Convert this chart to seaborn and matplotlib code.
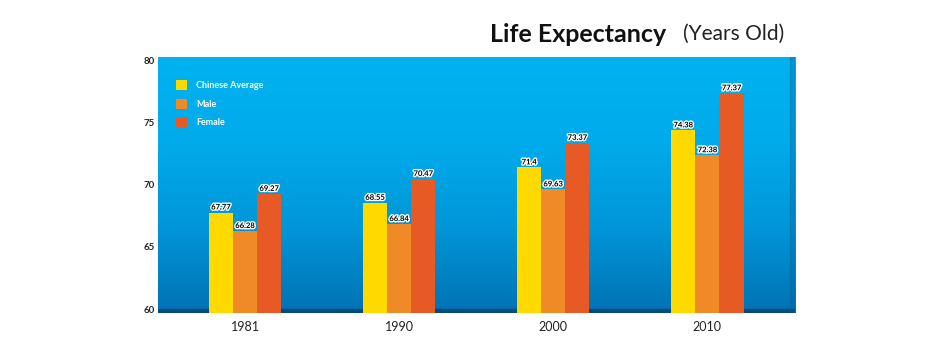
import numpy as np
import pandas as pd
import seaborn as sns
import matplotlib.pyplot as plt
import matplotlib.patheffects as pe
from matplotlib.colors import LinearSegmentedColormap
from matplotlib.patches import Rectangle, Patch

sns.set_theme(style='white')
plt.rcParams['font.family'] = ['Lato', 'DejaVu Sans']

# data
years = ['1981', '1990', '2000', '2010']
series = ['Chinese Average', 'Male', 'Female']
avg = [67.77, 68.55, 71.4, 74.38]
male = [66.28, 66.84, 69.63, 72.38]
female = [69.27, 70.47, 73.37, 77.37]
colors = ['#FFD900', '#EF8A26', '#E75A26']

df = pd.DataFrame({
    'year': years * 3,
    'group': [s for s in series for _ in years],
    'value': avg + male + female,
})

fig = plt.figure(figsize=(9.4, 3.6), dpi=100)
ax = fig.add_axes([0.168, 0.131, 0.678, 0.711])

# blue gradient background
cmap = LinearSegmentedColormap.from_list('bg', ['#0072B4', '#0096D8', '#00ABEB', '#00B2F0'])
grad = np.linspace(0, 1, 256).reshape(-1, 1)
ax.imshow(grad, aspect='auto', cmap=cmap, origin='lower',
          extent=[0, 1, 0, 1], transform=ax.transAxes, zorder=0)
ax.add_patch(Rectangle((0, 0), 1, 0.016, transform=ax.transAxes,
                       color='#004A7C', zorder=1))
ax.add_patch(Rectangle((0.992, 0), 0.008, 1, transform=ax.transAxes,
                       color='#00609A', alpha=0.35, zorder=1))

sns.barplot(data=df, x='year', y='value', hue='group', palette=colors,
            width=0.47, gap=0, saturation=1, linewidth=0, ax=ax,
            legend=False, zorder=2)

for cont in ax.containers:
    ax.bar_label(cont, fmt='%g', fontsize=5.5, fontweight='bold', padding=1.5,
                 color='black',
                 path_effects=[pe.withStroke(linewidth=2, foreground='white')])

ax.set_ylim(59.7, 80.3)
ax.set_xlim(-0.565, 3.57)
ax.set_yticks([60, 65, 70, 75, 80])
ax.set_xlabel('')
ax.set_ylabel('')
ax.tick_params(axis='y', labelsize=7, pad=2, length=0)
ax.tick_params(axis='x', labelsize=9, pad=6, length=0, colors='#222222')
for lab in ax.get_yticklabels():
    lab.set_fontweight('bold')
for s in ax.spines.values():
    s.set_visible(False)

handles = [Patch(facecolor=c, edgecolor='none') for c in colors]
leg = ax.legend(handles, series, loc='upper left', bbox_to_anchor=(0.015, 0.94),
                frameon=False, fontsize=6.5, labelcolor='white',
                handlelength=1.3, handleheight=1.3, labelspacing=0.95,
                handletextpad=1.0)
for t in leg.get_texts():
    t.set_fontweight('bold')

fig.text(0.521, 0.905, 'Life Expectancy', fontsize=18, fontweight='bold',
         color='#111111', ha='left', va='center')
fig.text(0.727, 0.905, '(Years Old)', fontsize=15, fontweight='normal',
         color='#222222', ha='left', va='center')

fig.savefig('out.png', dpi=100)
